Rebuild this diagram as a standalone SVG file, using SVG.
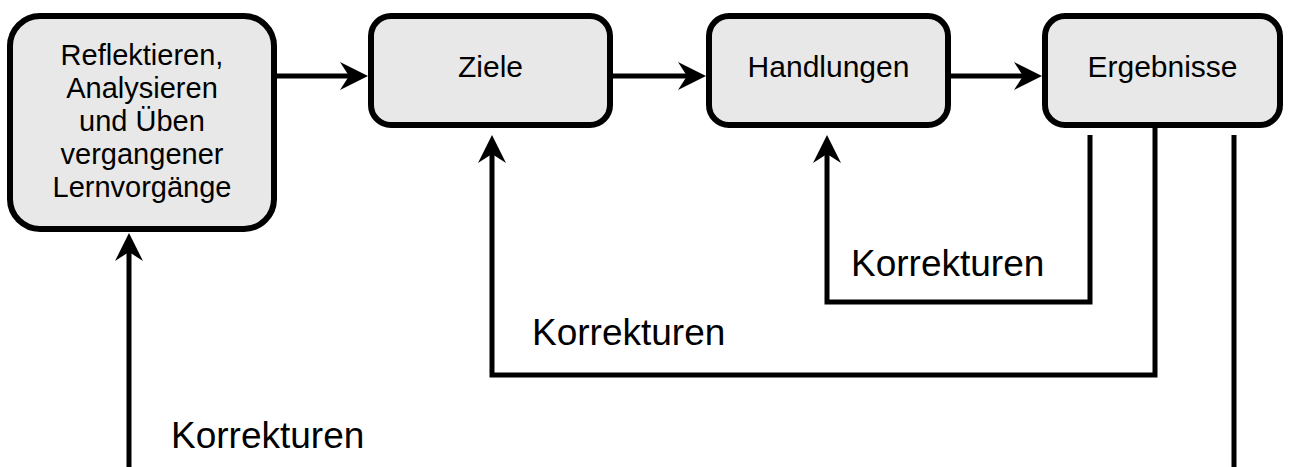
<svg xmlns="http://www.w3.org/2000/svg" width="1289" height="467" viewBox="0 0 1289 467">
<style>
.box{fill:#e8e8e8;stroke:#000;stroke-width:6}
.t{font-family:"Liberation Sans",Arial,sans-serif;font-size:30px;fill:#000;text-anchor:middle}
.t1{font-family:"Liberation Sans",Arial,sans-serif;font-size:29px;fill:#000;text-anchor:middle}
.lbl{font-family:"Liberation Sans",Arial,sans-serif;font-size:37px;fill:#000}
.c{fill:none;stroke:#000;stroke-width:5;stroke-linejoin:miter;stroke-linecap:butt}
</style>
<defs>
<marker id="ah" viewBox="-20 -20 40 40" markerWidth="40" markerHeight="40" refX="0" refY="0" orient="auto" markerUnits="userSpaceOnUse" overflow="visible">
<path d="M19,0 L-9,-14 L0,0 L-9,14 Z" fill="#000"/>
</marker>
</defs>
<rect width="1289" height="467" fill="#fff"/>
<g id="connectors">
<path class="c" d="M277,76 H349" marker-end="url(#ah)"/>
<path class="c" d="M613,76 H687" marker-end="url(#ah)"/>
<path class="c" d="M951,76 H1023" marker-end="url(#ah)"/>
<path class="c" d="M1090,135 V302 H827 V154" marker-end="url(#ah)"/>
<path class="c" d="M1155,128 V375 H492 V154" marker-end="url(#ah)"/>
<path class="c" d="M1234,135 V467"/>
<path class="c" d="M129,467 V252" marker-end="url(#ah)"/>
<text class="lbl" x="851" y="276">Korrekturen</text>
<text class="lbl" x="532" y="345">Korrekturen</text>
<text class="lbl" x="171" y="448">Korrekturen</text>
</g>
<g id="n1">
<rect class="box" x="10" y="16" width="264" height="213" rx="30" ry="30"/>
<text class="t1" x="142" y="65">Reflektieren,</text>
<text class="t1" x="142" y="98">Analysieren</text>
<text class="t1" x="142" y="131">und Üben</text>
<text class="t1" x="142" y="164">vergangener</text>
<text class="t1" x="142" y="197">Lernvorgänge</text>
</g>
<g id="n2">
<rect class="box" x="371" y="16" width="239" height="109" rx="20" ry="20"/>
<text class="t" x="490.5" y="77">Ziele</text>
</g>
<g id="n3">
<rect class="box" x="709" y="16" width="239" height="109" rx="20" ry="20"/>
<text class="t" x="828.5" y="77">Handlungen</text>
</g>
<g id="n4">
<rect class="box" x="1045" y="16" width="235" height="109" rx="20" ry="20"/>
<text class="t" x="1162.5" y="77">Ergebnisse</text>
</g>
</svg>
